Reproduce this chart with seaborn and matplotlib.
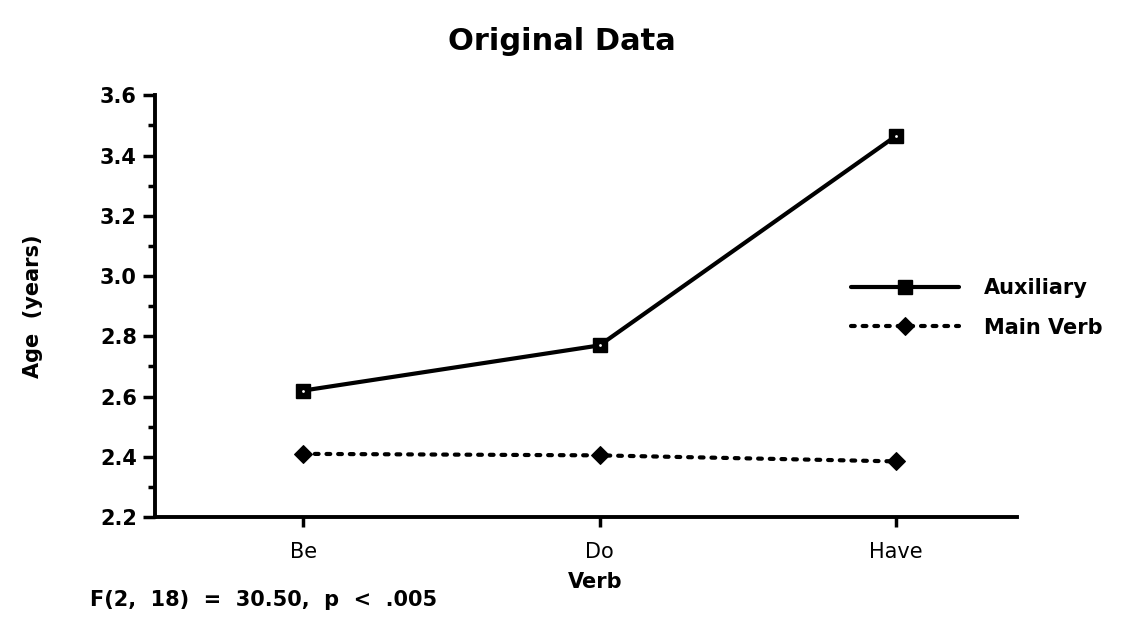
import matplotlib
matplotlib.use("Agg")
import matplotlib.pyplot as plt
import seaborn as sns
import pandas as pd
from matplotlib.ticker import MultipleLocator

verbs = ["Be", "Do", "Have"]
auxiliary = [2.62, 2.77, 3.465]
main_verb = [2.41, 2.405, 2.385]
series_names = ["Auxiliary", "Main Verb"]

df = pd.DataFrame({
    "Verb": verbs * 2,
    "Age": auxiliary + main_verb,
    "Type": [series_names[0]] * 3 + [series_names[1]] * 3,
})
df["x"] = df["Verb"].map({v: i for i, v in enumerate(verbs)})

sns.set_theme(style="white")
plt.rcParams["font.family"] = ["DejaVu Sans"]
plt.rcParams["text.color"] = "black"
plt.rcParams["axes.labelcolor"] = "black"
plt.rcParams["xtick.color"] = "black"
plt.rcParams["ytick.color"] = "black"

fig = plt.figure(figsize=(11.23, 6.44), dpi=100)
ax = fig.add_axes([0.138, 0.197, 0.768, 0.655])

sns.lineplot(data=df, x="x", y="Age", hue="Type", style="Type",
             palette=["black", "black"],
             dashes={"Auxiliary": "", "Main Verb": (0.9, 1.9)},
             markers={"Auxiliary": "s", "Main Verb": "D"},
             linewidth=3, markersize=11, ax=ax, legend=False)

lines = ax.get_lines()
lines[0].set_markerfacecolor("black")
lines[0].set_markeredgecolor("black")
lines[0].set_markeredgewidth(1)
lines[0].set_markersize(10)
lines[1].set_linewidth(3)
lines[1].set_dash_capstyle("round")
lines[1].set_markerfacecolor("black")
lines[1].set_markeredgecolor("black")
lines[1].set_markersize(9)

# small white centre dots of the auxiliary squares
ax.scatter(range(len(verbs)), auxiliary, s=4, color="white", zorder=5, linewidths=0)

ax.set_xlim(-0.5, 2.41)
ax.set_ylim(2.2, 3.6)
ax.set_xticks(range(len(verbs)))
ax.set_xticklabels(verbs, fontsize=15, fontweight="normal")
ax.yaxis.set_major_locator(MultipleLocator(0.2))
ax.yaxis.set_minor_locator(MultipleLocator(0.1))
ax.set_yticklabels([f"{v:.1f}" for v in ax.get_yticks()], fontsize=15, fontweight="bold")
ax.tick_params(axis="y", which="major", direction="out", length=9, width=2.5, left=True, pad=4)
ax.tick_params(axis="y", which="minor", direction="out", length=5, width=2.5, left=True)
ax.tick_params(axis="x", direction="out", length=7, width=2.5, bottom=True, pad=11)
for s in ["top", "right"]:
    ax.spines[s].set_visible(False)
for s in ["left", "bottom"]:
    ax.spines[s].set_color("black")
    ax.spines[s].set_linewidth(2.8)

ax.set_xlabel("Verb", fontsize=15, fontweight="bold")
ax.xaxis.set_label_coords(0.51, -0.13)
ax.set_ylabel("Age  (years)", fontsize=15, fontweight="bold")
ax.yaxis.set_label_coords(-0.13, 0.5)

leg = ax.legend(handles=lines[:2], labels=series_names, loc="center left",
                bbox_to_anchor=(0.741, 0.522), bbox_transform=fig.transFigure,
                frameon=False, fontsize=15, handlelength=5.2, handletextpad=1.2,
                labelspacing=0.95)
for t in leg.get_texts():
    t.set_fontweight("bold")

fig.text(0.5, 0.935, "Original Data", ha="center", va="center",
         fontsize=22, fontweight="bold")
fig.text(0.08, 0.068, "F(2,  18)  =  30.50,  p  <  .005", ha="left", va="center",
         fontsize=15, fontweight="bold")

fig.savefig("out.png", dpi=100)
